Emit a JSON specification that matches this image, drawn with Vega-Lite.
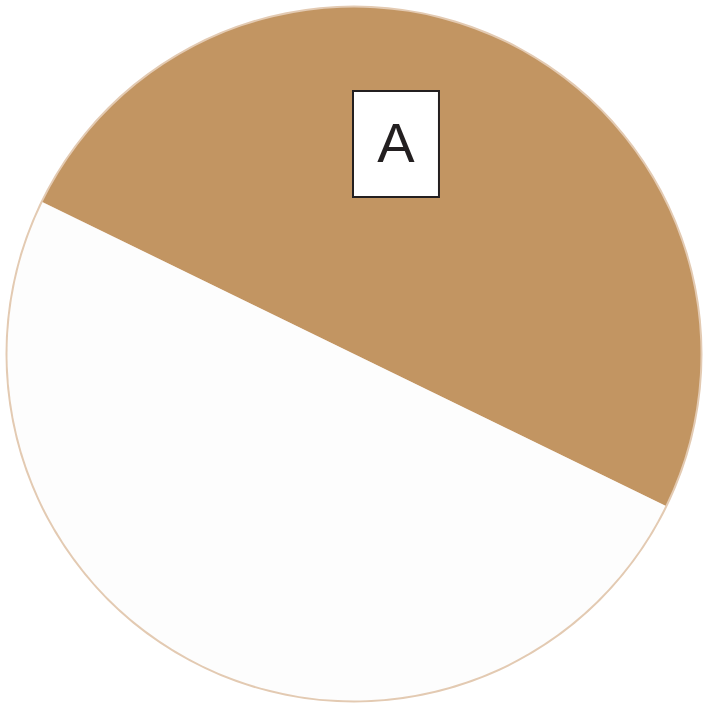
{
  "$schema": "https://vega.github.io/schema/vega-lite/v6.json",
  "width": 708,
  "height": 708,
  "autosize": "none",
  "padding": 0,
  "background": "white",
  "config": {"view": {"stroke": null}},
  "layer": [
    {
      "data": {"values": [{"ring": "outline"}]},
      "mark": {"type": "arc", "outerRadius": 348.5, "fill": "#e3cab2"},
      "encoding": {"theta": {"value": 6.2832}}
    },
    {
      "data": {"values": [
        {"category": "A", "value": 50},
        {"category": "B", "value": 50}
      ]},
      "mark": {"type": "arc", "outerRadius": 346.5},
      "encoding": {
        "theta": {"field": "value", "type": "quantitative", "stack": true, "scale": {"range": [-1.117, 5.166]}},
        "color": {"field": "category", "type": "nominal", "scale": {"domain": ["A", "B"], "range": ["#c29562", "#fdfdfd"]}, "legend": null},
        "order": {"field": "category", "sort": "ascending"}
      }
    },
    {
      "data": {"values": [{"label": "A", "px": 0.121, "py": 0.605}]},
      "layer": [
        {
          "mark": {"type": "point", "shape": "M-0.811,-1L0.811,-1L0.811,1L-0.811,1Z", "size": 11236, "filled": true, "fill": "white", "stroke": "#231f20", "strokeWidth": 2, "opacity": 1},
          "encoding": {
            "x": {"field": "px", "type": "quantitative", "scale": {"domain": [-1.0202, 1.0202], "nice": false, "zero": false}, "axis": null},
            "y": {"field": "py", "type": "quantitative", "scale": {"domain": [-1.0202, 1.0202], "nice": false, "zero": false}, "axis": null}
          }
        },
        {
          "mark": {"type": "text", "font": "Liberation Sans", "fontSize": 56, "color": "#231f20", "baseline": "alphabetic", "align": "center", "dy": 18},
          "encoding": {
            "x": {"field": "px", "type": "quantitative", "scale": {"domain": [-1.0202, 1.0202], "nice": false, "zero": false}, "axis": null},
            "y": {"field": "py", "type": "quantitative", "scale": {"domain": [-1.0202, 1.0202], "nice": false, "zero": false}, "axis": null},
            "text": {"field": "label"}
          }
        }
      ]
    }
  ]
}
